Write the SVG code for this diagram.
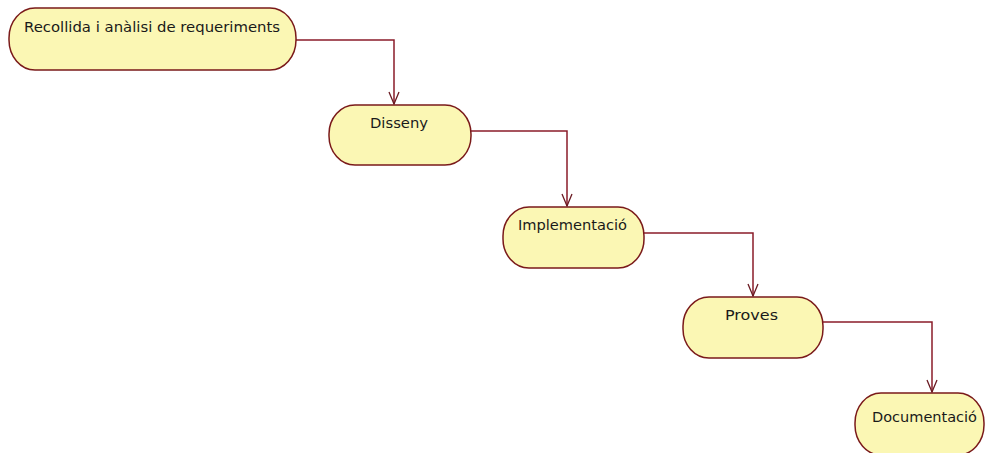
<svg xmlns="http://www.w3.org/2000/svg" width="987" height="453" viewBox="0 0 987 453">
  <style>
    .node rect { fill: #fbf7b4; stroke: #7a1a1a; stroke-width: 1.5; }
    .node text { font-family: "DejaVu Sans", "Liberation Sans", sans-serif; font-size: 14px; fill: #1a1a1a; }
    .edge { fill: none; stroke: #8a1c2a; stroke-width: 1.5; marker-end: url(#openArrow); }
  </style>
  <defs>
    <!-- open V arrowhead, drawn pointing along +x -->
    <marker id="openArrow" viewBox="0 0 14 12" refX="13" refY="6" markerWidth="14" markerHeight="12" markerUnits="userSpaceOnUse" orient="auto">
      <path d="M1,1 L13,6 L1,11" fill="none" stroke="#6a1a22" stroke-width="1.3"/>
    </marker>
  </defs>
  <rect width="987" height="453" fill="#ffffff"/>

  <g id="connectors">
    <path class="edge" d="M296,40 H394 V104"/>
    <path class="edge" d="M471,131 H567 V206"/>
    <path class="edge" d="M644,233 H753 V296"/>
    <path class="edge" d="M823,322 H932 V392"/>
  </g>

  <g id="node-requeriments" class="node">
    <rect x="9" y="8" width="287" height="62" rx="26" ry="30"/>
    <text x="24" y="32" textLength="256" lengthAdjust="spacingAndGlyphs">Recollida i anàlisi de requeriments</text>
  </g>
  <g id="node-disseny" class="node">
    <rect x="329" y="105" width="142" height="60" rx="26" ry="29"/>
    <text x="370" y="128" textLength="58" lengthAdjust="spacingAndGlyphs">Disseny</text>
  </g>
  <g id="node-implementacio" class="node">
    <rect x="503" y="207" width="141" height="61" rx="26" ry="29"/>
    <text x="518" y="230" textLength="109" lengthAdjust="spacingAndGlyphs">Implementació</text>
  </g>
  <g id="node-proves" class="node">
    <rect x="683" y="297" width="140" height="61" rx="26" ry="29"/>
    <text x="725" y="320" textLength="53" lengthAdjust="spacingAndGlyphs">Proves</text>
  </g>
  <g id="node-documentacio" class="node">
    <rect x="855" y="393" width="129" height="62" rx="26" ry="30"/>
    <text x="872" y="422" textLength="105" lengthAdjust="spacingAndGlyphs">Documentació</text>
  </g>
</svg>
